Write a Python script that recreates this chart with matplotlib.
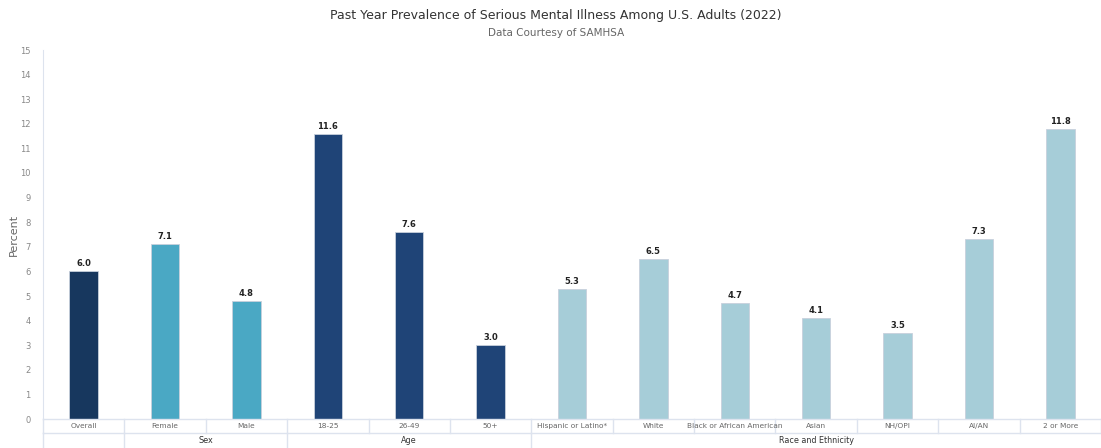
import matplotlib
matplotlib.use("Agg")
import matplotlib.pyplot as plt
from matplotlib.transforms import blended_transform_factory

categories = ["Overall", "Female", "Male", "18-25", "26-49", "50+",
              "Hispanic or Latino*", "White", "Black or African American",
              "Asian", "NH/OPI", "AI/AN", "2 or More"]
values = [6.0, 7.1, 4.8, 11.6, 7.6, 3.0, 5.3, 6.5, 4.7, 4.1, 3.5, 7.3, 11.8]
groups = [("", 0, 1), ("Sex", 1, 3), ("Age", 3, 6), ("Race and Ethnicity", 6, 13)]
group_colors = {"": "#17375e", "Sex": "#4aa8c4", "Age": "#1f4477",
                "Race and Ethnicity": "#a6cdd8"}

colors = []
for name, start, end in groups:
    colors += [group_colors[name]] * (end - start)

line_col = "#dde3ee"
text_col = "#666666"

fig = plt.figure(figsize=(11.01, 4.48), dpi=100)
ax = fig.add_axes([43 / 1101, 29 / 448, 1058 / 1101, 369 / 448])

x = list(range(len(categories)))
bars = ax.bar(x, values, width=0.35, color=colors, edgecolor="#c8d0dc", linewidth=0.6)
for xi, v in zip(x, values):
    ax.text(xi, v + 0.12, f"{v:.1f}", ha="center", va="bottom",
            fontsize=6, fontweight="bold", color="#222222")

ax.set_xlim(-0.5, len(categories) - 0.5)
ax.set_ylim(0, 15)
ax.set_yticks(range(0, 16))
ax.tick_params(axis="y", length=0, labelsize=6, labelcolor="#888888", pad=9)
ax.set_xticks([])
for side in ["top", "right", "bottom"]:
    ax.spines[side].set_visible(False)
ax.spines["left"].set_color(line_col)
ax.set_ylabel("Percent", fontsize=8, color=text_col)
ax.yaxis.set_label_coords(-0.0225, 0.5)

# category table below the axis
tr = blended_transform_factory(ax.transData, ax.transAxes)
row1 = -14 / 369
row2 = -29 / 369
ax.plot([-0.5, len(categories) - 0.5], [0, 0], transform=tr, color=line_col,
        lw=1, clip_on=False)
ax.plot([-0.5, len(categories) - 0.5], [row1, row1], transform=tr, color=line_col,
        lw=1, clip_on=False)
for i, cat in enumerate(categories):
    ax.text(i, row1 / 2, cat, transform=tr, ha="center", va="center",
            fontsize=5.3, color=text_col, clip_on=False)
    ax.plot([i - 0.5, i - 0.5], [0, row1], transform=tr, color=line_col,
            lw=1, clip_on=False)
ax.plot([len(categories) - 0.5] * 2, [0, row1], transform=tr, color=line_col,
        lw=1, clip_on=False)
for name, start, end in groups:
    ax.text((start + end - 1) / 2, (row1 + row2) / 2, name, transform=tr,
            ha="center", va="center", fontsize=5.8, color="#333333", clip_on=False)
    ax.plot([start - 0.5, start - 0.5], [row1, row2], transform=tr, color=line_col,
            lw=1, clip_on=False)

fig.text(556 / 1101, 1 - 15 / 448, "Past Year Prevalence of Serious Mental Illness Among U.S. Adults (2022)",
         ha="center", va="center", fontsize=9, color="#333333")
fig.text(556 / 1101, 1 - 33 / 448, "Data Courtesy of SAMHSA",
         ha="center", va="center", fontsize=7.5, color=text_col)

fig.savefig("out.png", dpi=100)
